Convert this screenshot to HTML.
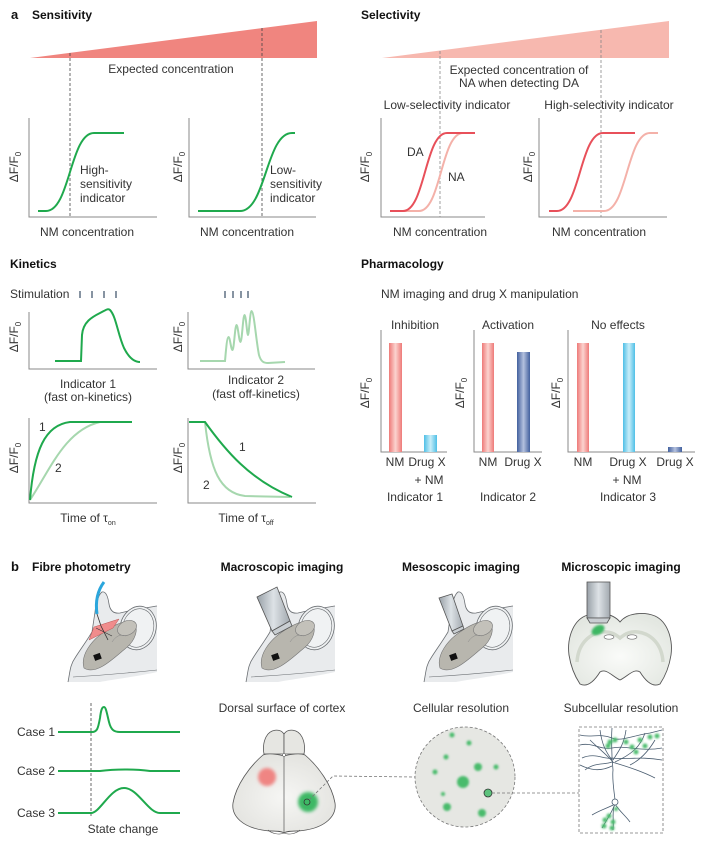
<!DOCTYPE html>
<html><head><meta charset="utf-8"><style>
html,body{margin:0;padding:0;background:#fff;}
svg{display:block;}
</style></head><body>
<svg width="702" height="843" viewBox="0 0 702 843" xmlns="http://www.w3.org/2000/svg" font-family="Liberation Sans, Arial, sans-serif" font-size="12" fill="#333">
<defs>
 <linearGradient id="gRed" x1="0" x2="1" y1="0" y2="0"><stop offset="0" stop-color="#ee7a78"/><stop offset="0.5" stop-color="#fbd3cf"/><stop offset="1" stop-color="#ee7a78"/></linearGradient>
 <linearGradient id="gLB" x1="0" x2="1" y1="0" y2="0"><stop offset="0" stop-color="#4fbfe6"/><stop offset="0.5" stop-color="#c8eef9"/><stop offset="1" stop-color="#4fbfe6"/></linearGradient>
 <linearGradient id="gDB" x1="0" x2="1" y1="0" y2="0"><stop offset="0" stop-color="#42609e"/><stop offset="0.5" stop-color="#b4c1de"/><stop offset="1" stop-color="#42609e"/></linearGradient>
 <linearGradient id="gObj" x1="0" x2="1" y1="0" y2="0"><stop offset="0" stop-color="#98a0a7"/><stop offset="0.5" stop-color="#dde2e6"/><stop offset="1" stop-color="#a2a9af"/></linearGradient>
 <radialGradient id="gCtx" cx="0.5" cy="0.55" r="0.6"><stop offset="0" stop-color="#f6f6f4"/><stop offset="1" stop-color="#e2e2de"/></radialGradient>
 <radialGradient id="gSec" cx="0.5" cy="0.6" r="0.6"><stop offset="0" stop-color="#fafbf9"/><stop offset="1" stop-color="#e3e7e1"/></radialGradient>
 <filter id="blur1" x="-50%" y="-50%" width="200%" height="200%"><feGaussianBlur stdDeviation="1"/></filter>
 <filter id="blur2" x="-50%" y="-50%" width="200%" height="200%"><feGaussianBlur stdDeviation="1.6"/></filter>
 <g id="mouse">
  <path d="M68,682 C70,672 70,665 75,658 C80,650 86,642 92,632 L95,612 C96,602 99,594 102,592 C106,591 108,597 109,604 C110,610 113,614 120,613 C132,610 145,608 157,606 L157,672 C140,676 110,680 100,682 Z" fill="#e9ebed"/>
  <path d="M68,682 C70,672 70,665 75,658 C80,650 86,642 92,632 L95,612 C96,602 99,594 102,592 C106,591 108,597 109,604 C110,610 113,614 120,613 C132,610 145,608 157,606" fill="none" stroke="#6b6f73" stroke-width="0.8"/>
  <path d="M73,677 C90,676 120,674 157,670" fill="none" stroke="#6b6f73" stroke-width="0.6"/>
  <ellipse cx="138" cy="628" rx="18" ry="22" transform="rotate(15 138 628)" fill="#f0f2f3" stroke="#6b6f73" stroke-width="0.8"/>
  <ellipse cx="138" cy="628" rx="15.5" ry="19.5" transform="rotate(15 138 628)" fill="none" stroke="#6b6f73" stroke-width="0.6"/>
  <path d="M84,668 C80,655 92,640 104,632 C114,625 124,620 132,622 C140,626 136,640 126,648 C114,658 96,676 84,668 Z" fill="#b8b6ae" stroke="#777" stroke-width="0.6"/>
  <ellipse cx="127" cy="628" rx="10" ry="7" transform="rotate(-25 127 628)" fill="#c3c1ba" stroke="#777" stroke-width="0.6"/>
  <path d="M112,642 C116,636 120,634 126,636" fill="none" stroke="#888" stroke-width="0.5"/>
  <rect x="94" y="654" width="7" height="6" transform="rotate(-20 97 657)" fill="#111"/>
 </g>
</defs>

<!-- ===== a: Sensitivity ===== -->
<text x="11" y="19" font-weight="bold" font-size="13" fill="#111">a</text>
<text x="32" y="19" font-weight="bold" fill="#111">Sensitivity</text>
<polygon points="30,58 317,21 317,58" fill="#f0857f"/>
<text x="171" y="73" text-anchor="middle">Expected concentration</text>
<line x1="70" y1="53" x2="70" y2="217" stroke="#444" stroke-width="0.8" stroke-dasharray="3,2"/>
<line x1="262" y1="28" x2="262" y2="217" stroke="#444" stroke-width="0.8" stroke-dasharray="3,2"/>
<path d="M29,118 L29,217 L157,217" fill="none" stroke="#8a8a8a" stroke-width="1"/>
<path d="M189,118 L189,217 L316,217" fill="none" stroke="#8a8a8a" stroke-width="1"/>
<path d="M38,211 L46,211 C70,211 70,133 94,133 L124,133" fill="none" stroke="#1fa94d" stroke-width="2"/>
<path d="M198,211 L240,211 C266,211 266,133 292,133 L295,133" fill="none" stroke="#1fa94d" stroke-width="2"/>
<text x="80" y="174">High-</text><text x="80" y="188">sensitivity</text><text x="80" y="202">indicator</text>
<text x="270" y="174">Low-</text><text x="270" y="188">sensitivity</text><text x="270" y="202">indicator</text>
<text transform="translate(18,167) rotate(-90)" text-anchor="middle">ΔF/F<tspan font-size="8" dy="3">0</tspan></text>
<text transform="translate(182,167) rotate(-90)" text-anchor="middle">ΔF/F<tspan font-size="8" dy="3">0</tspan></text>
<text x="87" y="236" text-anchor="middle">NM concentration</text>
<text x="247" y="236" text-anchor="middle">NM concentration</text>

<!-- ===== Selectivity ===== -->
<text x="361" y="19" font-weight="bold" fill="#111">Selectivity</text>
<polygon points="382,58 669,21 669,58" fill="#f7b8af"/>
<line x1="440" y1="51" x2="440" y2="217" stroke="#888" stroke-width="0.8" stroke-dasharray="3,2"/>
<line x1="601" y1="30" x2="601" y2="217" stroke="#888" stroke-width="0.8" stroke-dasharray="3,2"/>
<text x="519" y="74" text-anchor="middle">Expected concentration of</text>
<text x="519" y="87" text-anchor="middle">NA when detecting DA</text>
<text x="447" y="109" text-anchor="middle">Low-selectivity indicator</text>
<text x="609" y="109" text-anchor="middle">High-selectivity indicator</text>
<path d="M381,118 L381,217 L485,217" fill="none" stroke="#8a8a8a" stroke-width="1"/>
<path d="M539,118 L539,217 L667,217" fill="none" stroke="#8a8a8a" stroke-width="1"/>
<path d="M402,211 L419,211 C441,211 441,133 463,133 L475,133" fill="none" stroke="#f4b1a9" stroke-width="2"/>
<path d="M390,211 L403,211 C425,211 425,133 447,133 L475,133" fill="none" stroke="#e8505a" stroke-width="2"/>
<path d="M573,211 L604,211 C627,211 627,133 650,133 L658,133" fill="none" stroke="#f4b1a9" stroke-width="2"/>
<path d="M549,211 L557,211 C580,211 580,133 603,133 L635,133" fill="none" stroke="#e8505a" stroke-width="2"/>
<text x="407" y="156">DA</text>
<text x="448" y="181">NA</text>
<text transform="translate(369,167) rotate(-90)" text-anchor="middle">ΔF/F<tspan font-size="8" dy="3">0</tspan></text>
<text transform="translate(532,167) rotate(-90)" text-anchor="middle">ΔF/F<tspan font-size="8" dy="3">0</tspan></text>
<text x="440" y="236" text-anchor="middle">NM concentration</text>
<text x="599" y="236" text-anchor="middle">NM concentration</text>

<!-- ===== Kinetics ===== -->
<text x="10" y="268" font-weight="bold" fill="#111">Kinetics</text>
<text x="10" y="298">Stimulation</text>
<g stroke="#5f7182" stroke-width="1.5">
 <line x1="80" y1="291" x2="80" y2="298"/><line x1="92" y1="291" x2="92" y2="298"/><line x1="104" y1="291" x2="104" y2="298"/><line x1="116" y1="291" x2="116" y2="298"/>
 <line x1="225" y1="291" x2="225" y2="298"/><line x1="233" y1="291" x2="233" y2="298"/><line x1="241" y1="291" x2="241" y2="298"/><line x1="248" y1="291" x2="248" y2="298"/>
</g>
<path d="M29,312 L29,369 L157,369" fill="none" stroke="#8a8a8a" stroke-width="1"/>
<path d="M188,312 L188,369 L315,369" fill="none" stroke="#8a8a8a" stroke-width="1"/>
<path d="M55,361 L81,361 L82,335 C83,322 92,317 100,313 C106,310 108,308 110,310 C116,316 118,335 124,348 C129,358 134,362 140,362" fill="none" stroke="#1fa94d" stroke-width="2"/>
<path d="M200,361 L225,361 C226,350 227,337 228.5,337 C230,337 231,350 232.5,350 C234,350 235,325 236.5,325 C238,325 239,342 240.5,342 C242,342 243,315 244.5,315 C246,315 247,335 248,335 C249,335 250,311 251.5,311 C254,311 256,340 259,355 C261,362 264,363 268,363 L285,362" fill="none" stroke="#a6d7ae" stroke-width="2"/>
<text transform="translate(18,337) rotate(-90)" text-anchor="middle">ΔF/F<tspan font-size="8" dy="3">0</tspan></text>
<text transform="translate(182,337) rotate(-90)" text-anchor="middle">ΔF/F<tspan font-size="8" dy="3">0</tspan></text>
<text x="88" y="388" text-anchor="middle">Indicator 1</text>
<text x="88" y="401" text-anchor="middle">(fast on-kinetics)</text>
<text x="256" y="384" text-anchor="middle">Indicator 2</text>
<text x="256" y="398" text-anchor="middle">(fast off-kinetics)</text>

<path d="M29,418 L29,503 L157,503" fill="none" stroke="#8a8a8a" stroke-width="1"/>
<path d="M188,418 L188,503 L316,503" fill="none" stroke="#8a8a8a" stroke-width="1"/>
<path d="M30,500 C50,470 65,430 100,422 L132,422" fill="none" stroke="#a6d7ae" stroke-width="2"/>
<path d="M30,500 C34,450 45,425 70,422 L132,422" fill="none" stroke="#1fa94d" stroke-width="2"/>
<path d="M205,422 C210,470 220,493 245,496 L290,497" fill="none" stroke="#a6d7ae" stroke-width="2"/>
<path d="M189,422 L205,422 C225,450 250,480 292,497" fill="none" stroke="#1fa94d" stroke-width="2"/>
<text x="39" y="431">1</text><text x="55" y="472">2</text>
<text x="239" y="451">1</text><text x="203" y="489">2</text>
<text transform="translate(18,458) rotate(-90)" text-anchor="middle">ΔF/F<tspan font-size="8" dy="3">0</tspan></text>
<text transform="translate(182,458) rotate(-90)" text-anchor="middle">ΔF/F<tspan font-size="8" dy="3">0</tspan></text>
<text x="88" y="522" text-anchor="middle">Time of τ<tspan font-size="7" dy="3">on</tspan></text>
<text x="246" y="522" text-anchor="middle">Time of τ<tspan font-size="7" dy="3">off</tspan></text>

<!-- ===== Pharmacology ===== -->
<text x="361" y="268" font-weight="bold" fill="#111">Pharmacology</text>
<text x="381" y="298">NM imaging and drug X manipulation</text>
<text x="415" y="329" text-anchor="middle">Inhibition</text>
<text x="508" y="329" text-anchor="middle">Activation</text>
<text x="618" y="329" text-anchor="middle">No effects</text>
<path d="M381,330 L381,452 L447,452" fill="none" stroke="#8a8a8a" stroke-width="1"/>
<path d="M474,330 L474,452 L542,452" fill="none" stroke="#8a8a8a" stroke-width="1"/>
<path d="M568,330 L568,452 L695,452" fill="none" stroke="#8a8a8a" stroke-width="1"/>
<rect x="389" y="343" width="13" height="109" fill="url(#gRed)"/>
<rect x="424" y="435" width="13" height="17" fill="url(#gLB)"/>
<rect x="482" y="343" width="12" height="109" fill="url(#gRed)"/>
<rect x="517" y="352" width="13" height="100" fill="url(#gDB)"/>
<rect x="577" y="343" width="12" height="109" fill="url(#gRed)"/>
<rect x="623" y="343" width="12" height="109" fill="url(#gLB)"/>
<rect x="668" y="447" width="14" height="5" fill="url(#gDB)"/>
<text transform="translate(369,393) rotate(-90)" text-anchor="middle">ΔF/F<tspan font-size="8" dy="3">0</tspan></text>
<text transform="translate(464,393) rotate(-90)" text-anchor="middle">ΔF/F<tspan font-size="8" dy="3">0</tspan></text>
<text transform="translate(560,393) rotate(-90)" text-anchor="middle">ΔF/F<tspan font-size="8" dy="3">0</tspan></text>
<text x="395" y="466" text-anchor="middle">NM</text>
<text x="427" y="466" text-anchor="middle">Drug X</text>
<text x="429" y="484" text-anchor="middle">+ NM</text>
<text x="415" y="501" text-anchor="middle">Indicator 1</text>
<text x="488" y="466" text-anchor="middle">NM</text>
<text x="523" y="466" text-anchor="middle">Drug X</text>
<text x="508" y="501" text-anchor="middle">Indicator 2</text>
<text x="583" y="466" text-anchor="middle">NM</text>
<text x="628" y="466" text-anchor="middle">Drug X</text>
<text x="627" y="484" text-anchor="middle">+ NM</text>
<text x="675" y="466" text-anchor="middle">Drug X</text>
<text x="628" y="501" text-anchor="middle">Indicator 3</text>

<!-- ===== b ===== -->
<text x="11" y="571" font-weight="bold" font-size="13" fill="#111">b</text>
<text x="32" y="571" font-weight="bold" fill="#111">Fibre photometry</text>
<text x="282" y="571" font-weight="bold" fill="#111" text-anchor="middle">Macroscopic imaging</text>
<text x="461" y="571" font-weight="bold" fill="#111" text-anchor="middle">Mesoscopic imaging</text>
<text x="621" y="571" font-weight="bold" fill="#111" text-anchor="middle">Microscopic imaging</text>

<!-- fibre mouse -->
<use href="#mouse"/>
<polygon points="89,640 94,627 119,619 113,628" fill="#f08c8c" stroke="#b55" stroke-width="0.5"/>
<path d="M104,582 C98,590 95,600 97,614" fill="none" stroke="#2ba6dc" stroke-width="3"/>
<path d="M97,614 L101,626 L108,640" fill="none" stroke="#333" stroke-width="0.8"/>
<path d="M96,628 L112,636" fill="none" stroke="#333" stroke-width="0.6"/>

<!-- macroscopic mouse -->
<use href="#mouse" transform="translate(178,0)"/>
<polygon points="257,597 277,587 290,621 272,631" fill="url(#gObj)" stroke="#555" stroke-width="0.8"/>
<polygon points="272,631 290,621 292,626 275,635" fill="#c9ced2" stroke="#555" stroke-width="0.8"/>

<!-- mesoscopic mouse -->
<use href="#mouse" transform="translate(356,0)"/>
<polygon points="439,598 452,594 463,626 452,631" fill="url(#gObj)" stroke="#555" stroke-width="0.8"/>
<polygon points="452,631 463,626 464,629 454,634" fill="#c9ced2" stroke="#555" stroke-width="0.8"/>

<!-- microscopic: coronal section -->
<path d="M620,622 C628,612 645,612 655,616 C668,622 673,640 671,655 C669,668 664,678 660,684 C652,688 645,680 640,672 C634,668 628,676 620,680 C612,676 606,668 600,672 C595,680 588,688 580,684 C576,678 571,668 569,655 C567,640 572,622 585,616 C595,612 612,612 620,622 Z" fill="url(#gSec)" stroke="#555" stroke-width="0.9"/>
<path d="M577,662 C578,645 588,634 602,632 C610,631 615,634 620,638 C625,634 630,631 638,632 C652,634 662,645 663,662" fill="none" stroke="#d2d8cd" stroke-width="3.5"/>
<ellipse cx="609" cy="637" rx="5" ry="2.2" fill="#fff" stroke="#666" stroke-width="0.6"/>
<ellipse cx="632" cy="637" rx="5" ry="2.2" fill="#fff" stroke="#666" stroke-width="0.6"/>
<ellipse cx="598" cy="630" rx="7" ry="4.5" transform="rotate(-30 598 630)" fill="#3cb764" filter="url(#blur1)"/>
<rect x="587" y="582" width="23" height="36" fill="url(#gObj)" stroke="#555" stroke-width="0.8"/>
<path d="M587,618 L610,618 L607,623 L590,623 Z" fill="#c9ced2" stroke="#555" stroke-width="0.8"/>

<!-- Cases -->
<line x1="91" y1="703" x2="91" y2="817" stroke="#444" stroke-width="0.8" stroke-dasharray="3,2"/>
<text x="17" y="736">Case 1</text>
<text x="17" y="775">Case 2</text>
<text x="17" y="817">Case 3</text>
<path d="M58,732 L92,732 C97,732 98,729 100,718 C101,710 102,707 104,707 C106,707 107,714 109,722 C111,730 114,732 120,732 L180,732" fill="none" stroke="#1fa94d" stroke-width="2"/>
<path d="M58,771 L100,771 C115,769 135,769 150,771 L180,771" fill="none" stroke="#1fa94d" stroke-width="2"/>
<path d="M58,813 L91,813 C100,813 110,788 124,788 C138,788 148,813 160,813 L180,813" fill="none" stroke="#1fa94d" stroke-width="2"/>
<text x="123" y="833" text-anchor="middle">State change</text>

<!-- Dorsal cortex -->
<text x="282" y="712" text-anchor="middle">Dorsal surface of cortex</text>
<path d="M284,754 L284,734 C280,728 270,729 266,737 C263,743 263,750 264,754 Z" fill="#e6e6e2" stroke="#555" stroke-width="0.8"/>
<path d="M284,754 L284,734 C288,728 298,729 302,737 C305,743 305,750 304,754 Z" fill="#e6e6e2" stroke="#555" stroke-width="0.8"/>
<path d="M284,756 C276,754 268,753 263,755 C250,766 236,785 233,803 C231,817 244,827 262,830 C272,832 280,830 284,833 C288,830 296,832 306,830 C324,827 337,817 335,803 C332,785 318,766 305,755 C300,753 292,754 284,756 Z" fill="url(#gCtx)" stroke="#555" stroke-width="0.8"/>
<line x1="284" y1="756" x2="284" y2="833" stroke="#555" stroke-width="0.7"/>
<path d="M268,830 C272,834 280,835 284,833 C288,835 296,834 300,830" fill="none" stroke="#555" stroke-width="0.6"/>
<circle cx="284" cy="755" r="1.5" fill="#fff" stroke="#555" stroke-width="0.5"/>
<circle cx="267" cy="777" r="9" fill="#ef8583" filter="url(#blur2)"/>
<circle cx="308" cy="802" r="10" fill="#3db865" filter="url(#blur2)"/>
<circle cx="307" cy="802" r="3" fill="none" stroke="#333" stroke-width="0.8"/>
<path d="M309,800 L333,776 L415,777" fill="none" stroke="#777" stroke-width="0.8" stroke-dasharray="3,2"/>

<!-- Cellular -->
<text x="461" y="712" text-anchor="middle">Cellular resolution</text>
<circle cx="465" cy="777" r="50" fill="#e6e7e3" stroke="#777" stroke-width="0.8" stroke-dasharray="3,2"/>
<g fill="#49bb6c" filter="url(#blur1)">
 <circle cx="452" cy="735" r="2.5"/><circle cx="469" cy="743" r="2.5"/><circle cx="446" cy="757" r="2.5"/>
 <circle cx="478" cy="767" r="4"/><circle cx="496" cy="767" r="2.5"/><circle cx="435" cy="772" r="2.5"/>
 <circle cx="463" cy="782" r="6"/><circle cx="443" cy="794" r="2"/><circle cx="447" cy="807" r="4"/>
 <circle cx="482" cy="813" r="4"/>
</g>
<circle cx="488" cy="793" r="4" fill="#5cc27c" stroke="#333" stroke-width="0.8"/>
<line x1="492" y1="793" x2="579" y2="793" stroke="#777" stroke-width="0.8" stroke-dasharray="3,2"/>

<!-- Subcellular -->
<text x="621" y="712" text-anchor="middle">Subcellular resolution</text>
<rect x="579" y="727" width="84" height="106" fill="#fff" stroke="#777" stroke-width="0.8" stroke-dasharray="3,2"/>
<g fill="none" stroke="#4a5d70" stroke-width="0.8">
 <path d="M615,800 C614,790 612,780 613,770 L612,758"/>
 <path d="M580,735 C590,738 600,733 612,738 C620,742 635,735 650,733 L662,730"/>
 <path d="M580,745 C592,742 600,750 612,748 C625,745 640,752 662,748"/>
 <path d="M582,758 C595,752 605,760 612,758 C625,760 640,756 662,760"/>
 <path d="M585,770 C595,762 605,765 612,762 C622,765 640,770 655,778"/>
 <path d="M580,765 C590,770 600,772 612,766"/>
 <path d="M600,730 C602,745 606,752 612,760"/>
 <path d="M626,730 C624,745 618,752 613,760"/>
 <path d="M645,733 C640,748 630,755 615,762"/>
 <path d="M590,740 C598,748 606,754 613,762"/>
 <path d="M612,728 C611,740 612,750 612,758"/>
 <path d="M655,740 C648,752 640,760 630,765"/>
 <path d="M615,804 C612,812 608,818 602,828"/>
 <path d="M615,804 C620,812 625,815 630,822"/>
 <path d="M614,806 C612,815 614,822 613,830"/>
 <path d="M615,804 C608,808 600,810 592,815"/>
</g>
<circle cx="615" cy="802" r="3" fill="#fff" stroke="#4a5d70" stroke-width="0.8"/>
<g fill="#49bb6c" filter="url(#blur1)">
 <circle cx="610" cy="742" r="2.5"/><circle cx="608" cy="746" r="2.5"/><circle cx="626" cy="742" r="2.5"/>
 <circle cx="632" cy="747" r="2.5"/><circle cx="640" cy="740" r="2.5"/><circle cx="645" cy="746" r="2.5"/>
 <circle cx="650" cy="737" r="2.5"/><circle cx="657" cy="736" r="2.5"/><circle cx="636" cy="752" r="2.5"/>
 <circle cx="615" cy="740" r="2.5"/><circle cx="609" cy="816" r="2.5"/><circle cx="605" cy="820" r="2.5"/>
 <circle cx="613" cy="822" r="2.5"/><circle cx="604" cy="826" r="2.5"/><circle cx="612" cy="828" r="2.5"/>
 <circle cx="616" cy="809" r="2"/>
</g>
</svg>
</body></html>
